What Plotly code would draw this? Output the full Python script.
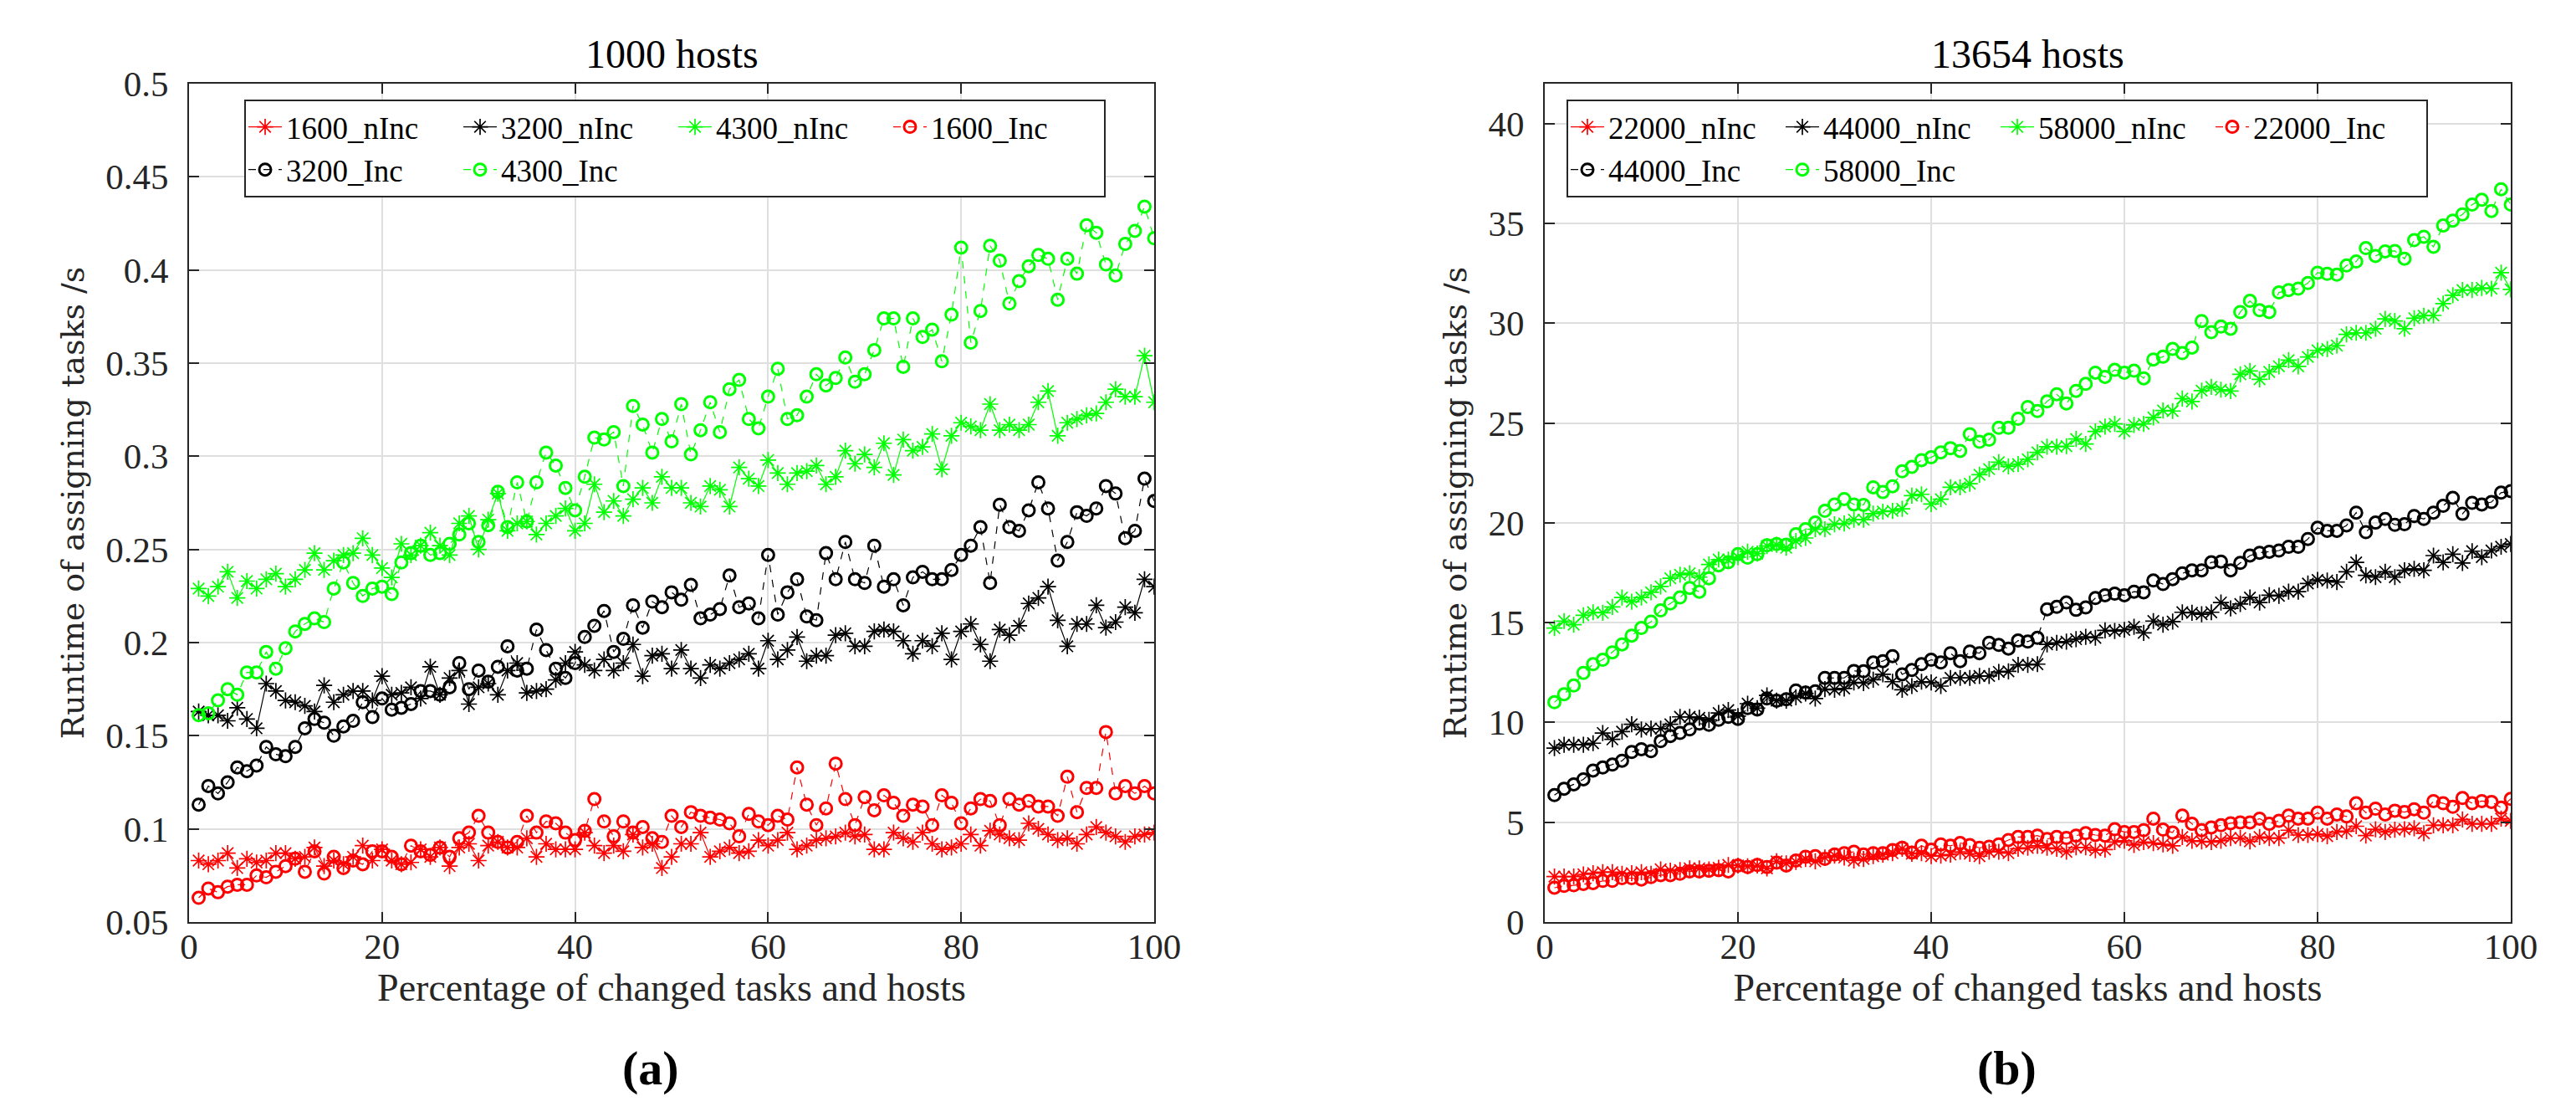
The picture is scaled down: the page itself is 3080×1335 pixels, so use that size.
import plotly.graph_objects as go
from plotly.subplots import make_subplots

# x positions: percentage of changed tasks and hosts
pct = list(range(1, 101))

# (a) 1000 hosts, runtime in seconds
nInc_1600 = [0.083, 0.081, 0.083, 0.087, 0.079, 0.084, 0.082, 0.083, 0.087, 0.087,
             0.084, 0.085, 0.090, 0.080, 0.083, 0.081, 0.085, 0.091, 0.083, 0.089,
             0.083, 0.081, 0.082, 0.089, 0.085, 0.090, 0.080, 0.090, 0.092, 0.083,
             0.091, 0.093, 0.090, 0.090, 0.095, 0.085, 0.092, 0.089, 0.089, 0.089,
             0.098, 0.091, 0.087, 0.091, 0.088, 0.097, 0.090, 0.092, 0.079, 0.085,
             0.092, 0.092, 0.098, 0.085, 0.088, 0.090, 0.087, 0.088, 0.094, 0.091,
             0.094, 0.098, 0.089, 0.091, 0.094, 0.095, 0.096, 0.098, 0.096, 0.097,
             0.089, 0.089, 0.098, 0.095, 0.093, 0.098, 0.092, 0.089, 0.090, 0.092,
             0.097, 0.091, 0.099, 0.097, 0.095, 0.094, 0.103, 0.100, 0.097, 0.094,
             0.095, 0.092, 0.097, 0.101, 0.098, 0.096, 0.093, 0.096, 0.097, 0.098]
nInc_3200 = [0.163, 0.161, 0.161, 0.158, 0.165, 0.159, 0.154, 0.178, 0.174, 0.169,
             0.168, 0.166, 0.163, 0.177, 0.168, 0.172, 0.174, 0.174, 0.169, 0.182,
             0.172, 0.173, 0.176, 0.170, 0.187, 0.172, 0.181, 0.185, 0.167, 0.176,
             0.178, 0.172, 0.185, 0.189, 0.173, 0.174, 0.175, 0.180, 0.189, 0.195,
             0.188, 0.185, 0.191, 0.185, 0.189, 0.199, 0.182, 0.193, 0.194, 0.186,
             0.196, 0.186, 0.181, 0.188, 0.186, 0.189, 0.191, 0.194, 0.186, 0.201,
             0.191, 0.196, 0.203, 0.190, 0.193, 0.193, 0.204, 0.205, 0.198, 0.198,
             0.206, 0.207, 0.206, 0.201, 0.194, 0.201, 0.198, 0.205, 0.191, 0.206,
             0.210, 0.199, 0.190, 0.207, 0.204, 0.209, 0.221, 0.224, 0.230, 0.212,
             0.198, 0.210, 0.210, 0.220, 0.208, 0.211, 0.219, 0.216, 0.234, 0.230]
nInc_4300 = [0.229, 0.225, 0.230, 0.238, 0.224, 0.233, 0.229, 0.234, 0.237, 0.230,
             0.234, 0.239, 0.248, 0.239, 0.244, 0.247, 0.248, 0.256, 0.247, 0.240,
             0.235, 0.253, 0.247, 0.252, 0.259, 0.252, 0.247, 0.264, 0.268, 0.250,
             0.266, 0.280, 0.260, 0.264, 0.265, 0.258, 0.264, 0.268, 0.272, 0.260,
             0.264, 0.285, 0.270, 0.276, 0.268, 0.277, 0.283, 0.275, 0.289, 0.283,
             0.283, 0.275, 0.273, 0.284, 0.282, 0.273, 0.294, 0.288, 0.284, 0.298,
             0.291, 0.285, 0.291, 0.292, 0.295, 0.285, 0.289, 0.303, 0.296, 0.301,
             0.294, 0.307, 0.290, 0.309, 0.303, 0.305, 0.312, 0.293, 0.311, 0.318,
             0.316, 0.314, 0.328, 0.314, 0.317, 0.314, 0.317, 0.329, 0.335, 0.311,
             0.318, 0.320, 0.322, 0.323, 0.329, 0.336, 0.332, 0.332, 0.354, 0.329]
Inc_1600 = [0.063, 0.068, 0.066, 0.069, 0.070, 0.070, 0.075, 0.074, 0.077, 0.080,
            0.084, 0.077, 0.088, 0.076, 0.085, 0.079, 0.083, 0.081, 0.088, 0.088,
            0.085, 0.081, 0.091, 0.088, 0.086, 0.090, 0.085, 0.095, 0.098, 0.107,
            0.098, 0.093, 0.090, 0.093, 0.107, 0.098, 0.104, 0.103, 0.098, 0.094,
            0.099, 0.116, 0.104, 0.096, 0.104, 0.098, 0.101, 0.095, 0.093, 0.107,
            0.101, 0.109, 0.107, 0.106, 0.105, 0.103, 0.096, 0.108, 0.104, 0.102,
            0.107, 0.105, 0.133, 0.113, 0.102, 0.111, 0.135, 0.116, 0.102, 0.117,
            0.110, 0.118, 0.114, 0.107, 0.113, 0.112, 0.102, 0.118, 0.114, 0.103,
            0.111, 0.116, 0.115, 0.102, 0.116, 0.113, 0.115, 0.112, 0.112, 0.107,
            0.128, 0.109, 0.122, 0.122, 0.152, 0.119, 0.123, 0.119, 0.123, 0.119]
Inc_3200 = [0.113, 0.123, 0.119, 0.125, 0.133, 0.131, 0.134, 0.144, 0.140, 0.139,
            0.144, 0.154, 0.159, 0.157, 0.150, 0.155, 0.158, 0.168, 0.160, 0.170,
            0.164, 0.165, 0.167, 0.174, 0.174, 0.172, 0.176, 0.189, 0.175, 0.185,
            0.179, 0.187, 0.198, 0.185, 0.186, 0.207, 0.196, 0.186, 0.181, 0.189,
            0.203, 0.209, 0.217, 0.195, 0.202, 0.220, 0.208, 0.222, 0.219, 0.227,
            0.223, 0.231, 0.213, 0.215, 0.218, 0.236, 0.219, 0.221, 0.213, 0.247,
            0.215, 0.227, 0.234, 0.214, 0.212, 0.248, 0.234, 0.254, 0.234, 0.232,
            0.252, 0.230, 0.234, 0.220, 0.235, 0.238, 0.234, 0.234, 0.239, 0.247,
            0.252, 0.262, 0.232, 0.274, 0.262, 0.260, 0.271, 0.286, 0.272, 0.244,
            0.254, 0.270, 0.268, 0.272, 0.284, 0.280, 0.256, 0.260, 0.288, 0.276]
Inc_4300 = [0.161, 0.162, 0.169, 0.175, 0.172, 0.184, 0.184, 0.195, 0.186, 0.197,
            0.206, 0.210, 0.213, 0.211, 0.229, 0.243, 0.232, 0.225, 0.229, 0.230,
            0.226, 0.243, 0.248, 0.252, 0.247, 0.248, 0.253, 0.258, 0.264, 0.254,
            0.263, 0.281, 0.262, 0.286, 0.265, 0.286, 0.302, 0.295, 0.283, 0.271,
            0.289, 0.310, 0.309, 0.313, 0.284, 0.327, 0.317, 0.302, 0.320, 0.308,
            0.328, 0.301, 0.314, 0.329, 0.313, 0.336, 0.341, 0.320, 0.315, 0.332,
            0.347, 0.320, 0.322, 0.332, 0.344, 0.338, 0.342, 0.353, 0.340, 0.344,
            0.357, 0.374, 0.374, 0.348, 0.374, 0.364, 0.368, 0.351, 0.376, 0.412,
            0.361, 0.378, 0.413, 0.405, 0.382, 0.394, 0.402, 0.408, 0.406, 0.384,
            0.406, 0.398, 0.424, 0.420, 0.403, 0.397, 0.414, 0.421, 0.434, 0.417]

# (b) 13654 hosts, runtime in seconds
nInc_22000 = [2.28, 2.28, 2.28, 2.39, 2.45, 2.50, 2.50, 2.42, 2.45, 2.50,
              2.42, 2.64, 2.57, 2.60, 2.69, 2.69, 2.64, 2.72, 2.86, 2.83,
              2.79, 2.83, 2.69, 3.04, 2.94, 3.01, 3.16, 3.04, 3.23, 3.33,
              3.23, 3.08, 3.16, 3.30, 3.38, 3.45, 3.67, 3.42, 3.45, 3.30,
              3.33, 3.38, 3.52, 3.42, 3.30, 3.52, 3.52, 3.45, 3.67, 3.72,
              3.82, 3.72, 3.67, 3.52, 3.74, 3.74, 3.60, 3.63, 4.01, 4.07,
              3.86, 4.01, 3.96, 3.89, 3.82, 4.26, 4.07, 4.04, 4.01, 4.07,
              4.21, 4.21, 4.04, 4.26, 4.21, 4.21, 4.60, 4.36, 4.36, 4.41,
              4.30, 4.51, 4.55, 4.80, 4.33, 4.65, 4.51, 4.63, 4.65, 4.70,
              4.45, 4.85, 4.85, 4.85, 5.14, 4.92, 4.92, 4.92, 5.18, 5.07]
nInc_44000 = [8.71, 8.88, 8.88, 8.88, 8.96, 9.47, 9.15, 9.54, 9.91, 9.65,
              9.69, 9.69, 9.91, 10.28, 10.28, 10.23, 10.13, 10.47, 10.62, 10.32,
              10.94, 10.72, 11.35, 11.09, 11.09, 11.26, 11.45, 11.20, 11.67, 11.64,
              11.70, 12.00, 11.97, 12.14, 12.41, 12.04, 11.64, 11.82, 12.04, 12.00,
              11.82, 12.23, 12.23, 12.23, 12.33, 12.33, 12.53, 12.56, 12.88, 12.88,
              12.92, 13.91, 13.99, 14.05, 14.17, 14.29, 14.24, 14.61, 14.58, 14.64,
              14.79, 14.49, 15.08, 14.90, 15.05, 15.52, 15.49, 15.42, 15.52, 16.01,
              15.71, 15.93, 16.26, 16.01, 16.37, 16.34, 16.55, 16.55, 16.96, 17.14,
              17.11, 17.03, 17.55, 18.02, 17.37, 17.28, 17.55, 17.28, 17.62, 17.69,
              17.62, 18.36, 18.02, 18.43, 17.99, 18.58, 18.28, 18.61, 18.80, 18.94]
nInc_58000 = [14.73, 15.08, 14.90, 15.37, 15.52, 15.49, 15.79, 16.26, 16.05, 16.26,
              16.52, 16.81, 17.22, 17.40, 17.47, 17.28, 17.91, 18.16, 18.16, 18.28,
              18.55, 18.46, 18.84, 18.90, 18.75, 19.09, 19.24, 19.68, 19.68, 19.93,
              19.97, 20.16, 20.16, 20.46, 20.56, 20.60, 20.70, 21.36, 21.43, 20.94,
              21.18, 21.78, 21.78, 21.96, 22.41, 22.69, 23.04, 22.83, 22.94, 23.18,
              23.53, 23.81, 23.81, 23.84, 24.20, 23.95, 24.58, 24.82, 24.96, 24.58,
              24.90, 24.96, 25.28, 25.63, 25.60, 26.22, 26.08, 26.62, 26.81, 26.67,
              26.60, 27.44, 27.61, 27.19, 27.56, 27.84, 28.15, 27.84, 28.31, 28.64,
              28.71, 28.88, 29.44, 29.52, 29.52, 29.72, 30.22, 30.11, 29.72, 30.25,
              30.37, 30.39, 30.98, 31.40, 31.66, 31.66, 31.77, 31.73, 32.53, 31.69]
Inc_22000 = [1.72, 1.81, 1.84, 1.91, 1.95, 2.06, 2.06, 2.20, 2.20, 2.13,
             2.25, 2.35, 2.35, 2.42, 2.54, 2.54, 2.57, 2.60, 2.54, 2.83,
             2.76, 2.86, 2.76, 2.98, 2.83, 3.08, 3.27, 3.30, 3.16, 3.38,
             3.45, 3.52, 3.38, 3.45, 3.45, 3.60, 3.72, 3.48, 3.82, 3.63,
             3.89, 3.82, 3.96, 3.86, 3.72, 3.77, 3.89, 4.11, 4.26, 4.26,
             4.33, 4.16, 4.26, 4.21, 4.33, 4.45, 4.36, 4.33, 4.65, 4.51,
             4.51, 4.60, 5.18, 4.63, 4.48, 5.33, 4.92, 4.60, 4.74, 4.85,
             4.95, 4.99, 4.99, 5.18, 4.92, 5.07, 5.33, 5.18, 5.18, 5.48,
             5.18, 5.39, 5.29, 5.95, 5.48, 5.68, 5.39, 5.58, 5.51, 5.65,
             5.48, 6.06, 5.95, 5.77, 6.21, 5.95, 6.06, 6.02, 5.73, 6.17]
Inc_44000 = [6.36, 6.68, 6.90, 7.15, 7.59, 7.74, 7.89, 8.08, 8.52, 8.66,
             8.56, 9.06, 9.32, 9.47, 9.65, 9.94, 9.88, 10.13, 10.28, 10.18,
             10.72, 10.65, 11.20, 11.09, 11.16, 11.60, 11.50, 11.56, 12.23, 12.23,
             12.23, 12.58, 12.56, 13.00, 13.07, 13.32, 12.41, 12.63, 12.92, 13.14,
             13.00, 13.47, 13.07, 13.55, 13.47, 13.99, 13.88, 13.70, 14.10, 14.05,
             14.24, 15.67, 15.79, 16.01, 15.64, 15.76, 16.23, 16.37, 16.45, 16.37,
             16.55, 16.52, 17.11, 16.93, 17.18, 17.47, 17.62, 17.62, 18.02, 18.06,
             17.62, 17.99, 18.36, 18.50, 18.55, 18.61, 18.80, 18.80, 19.19, 19.75,
             19.60, 19.60, 19.87, 20.51, 19.53, 20.01, 20.19, 19.90, 19.93, 20.34,
             20.19, 20.51, 20.85, 21.25, 20.45, 21.00, 20.92, 21.04, 21.51, 21.59]
Inc_58000 = [11.01, 11.41, 11.85, 12.48, 12.92, 13.14, 13.51, 13.91, 14.35, 14.73,
             15.05, 15.61, 15.96, 16.26, 16.74, 16.55, 17.22, 17.87, 18.02, 18.43,
             18.25, 18.43, 18.87, 18.94, 18.90, 19.43, 19.68, 20.01, 20.60, 20.92,
             21.19, 20.92, 20.90, 21.78, 21.54, 21.83, 22.58, 22.80, 23.14, 23.28,
             23.53, 23.74, 23.60, 24.44, 24.06, 24.16, 24.76, 24.76, 25.21, 25.80,
             25.60, 26.08, 26.44, 25.98, 26.61, 26.96, 27.52, 27.31, 27.66, 27.52,
             27.62, 27.24, 28.18, 28.32, 28.71, 28.50, 28.78, 30.11, 29.55, 29.83,
             29.72, 30.56, 31.12, 30.65, 30.56, 31.54, 31.66, 31.73, 32.01, 32.53,
             32.47, 32.43, 32.89, 33.09, 33.76, 33.37, 33.60, 33.62, 33.23, 34.16,
             34.33, 33.83, 34.89, 35.14, 35.45, 35.94, 36.18, 35.62, 36.71, 35.94]

panel_titles = ['1000 hosts', '13654 hosts']
panel_tags = ['(a)', '(b)']
x_title = 'Percentage of changed tasks and hosts'
y_title = 'Runtime of assigning tasks /s'

RED, BLACK, GREEN = '#ff0000', '#000000', '#00ff00'
AXIS_GREY = '#262626'

# legend groups stack two entries in one column -> 4 columns, 2 rows like MATLAB
panels = [
    dict(col=1, legend='legend', series=[
        ('1600_nInc', nInc_1600, RED, False, 'g1'),
        ('3200_nInc', nInc_3200, BLACK, False, 'g2'),
        ('4300_nInc', nInc_4300, GREEN, False, 'g3'),
        ('1600_Inc', Inc_1600, RED, True, 'g4'),
        ('3200_Inc', Inc_3200, BLACK, True, 'g1'),
        ('4300_Inc', Inc_4300, GREEN, True, 'g2'),
    ]),
    dict(col=2, legend='legend2', series=[
        ('22000_nInc', nInc_22000, RED, False, 'h1'),
        ('44000_nInc', nInc_44000, BLACK, False, 'h2'),
        ('58000_nInc', nInc_58000, GREEN, False, 'h3'),
        ('22000_Inc', Inc_22000, RED, True, 'h4'),
        ('44000_Inc', Inc_44000, BLACK, True, 'h1'),
        ('58000_Inc', Inc_58000, GREEN, True, 'h2'),
    ]),
]

fig = make_subplots(rows=1, cols=2)

for p in panels:
    for name, vals, color, inc, grp in p['series']:
        if inc:
            line = dict(color=color, width=1.2, dash='dash')
            marker = dict(symbol='circle-open', size=14, color=color,
                          line=dict(color=color, width=3))
        else:
            line = dict(color=color, width=1.2)
            marker = dict(symbol='asterisk-open', size=16, color=color,
                          line=dict(color=color, width=1.7))
        fig.add_trace(
            go.Scatter(x=pct, y=vals, name=name, mode='lines+markers',
                       line=line, marker=marker, legend=p['legend'],
                       legendgroup=grp),
            row=1, col=p['col']
        )

# the page body has an 8px margin, so the figure is drawn 8px in from the corner
OFF = 8
W, H = 3080 - OFF, 1335 - OFF
# plot boxes in page pixels (left, right, top, bottom)
boxes = [(226, 1380, 100, 1102), (1847, 3002, 100, 1102)]

axis_common = dict(
    showline=True, linecolor=AXIS_GREY, linewidth=2, mirror='ticks',
    ticks='inside', ticklen=12, tickwidth=2, tickcolor=AXIS_GREY,
    showgrid=True, gridcolor='#dfdfdf', gridwidth=2, zeroline=False,
    automargin=False,
    tickfont=dict(family='Liberation Serif', size=43, color=AXIS_GREY),
)

for i, (l, r, t, b) in enumerate(boxes):
    l, r, t, b = l - OFF, r - OFF, t - OFF, b - OFF
    fig.update_xaxes(
        domain=[l / W, r / W], range=[0, 100], dtick=20,
        title=dict(text=x_title, standoff=8,
                   font=dict(family='Liberation Serif', size=46, color=AXIS_GREY)),
        ticklabelstandoff=-10,
        row=1, col=i + 1, **axis_common
    )
    fig.update_yaxes(
        domain=[1 - b / H, 1 - t / H],
        title=dict(text=y_title, standoff=14,
                   font=dict(family='DejaVu Serif', size=38, color=AXIS_GREY)),
        ticklabelstandoff=14,
        row=1, col=i + 1, **axis_common
    )
    cx = (l + r) / 2 / W
    fig.add_annotation(text=panel_titles[i], x=cx, y=1 - (64 - OFF) / H,
                       xref='paper', yref='paper', xanchor='center', yanchor='middle',
                       showarrow=False, font=dict(family='Liberation Serif', size=48, color='black'))
    fig.add_annotation(text='<b>' + panel_tags[i] + '</b>', x=cx - 25 / W, y=1 - (1276 - OFF) / H,
                       xref='paper', yref='paper', xanchor='center', yanchor='middle',
                       showarrow=False, font=dict(family='Liberation Serif', size=58, color='black'))

fig.update_yaxes(range=[0.05, 0.5], dtick=0.05, row=1, col=1)
fig.update_yaxes(range=[0, 42], dtick=5, row=1, col=2)

legend_common = dict(
    orientation='h', traceorder='grouped', groupclick='toggleitem',
    xanchor='left', yanchor='top', y=1 - (119 - OFF) / H,
    bgcolor='white', bordercolor=AXIS_GREY, borderwidth=2,
    entrywidth=202, itemwidth=40,
    font=dict(family='Liberation Serif', size=37, color='black'),
)

fig.update_layout(
    width=W, height=H,
    margin=dict(l=0, r=0, t=0, b=0, autoexpand=False),
    paper_bgcolor='white', plot_bgcolor='white',
    font=dict(family='Liberation Serif', color=AXIS_GREY),
    showlegend=True,
    legend=dict(x=(292 - OFF) / W, **legend_common),
    legend2=dict(x=(1873 - OFF) / W, **legend_common),
)

fig.write_html("out.html")
